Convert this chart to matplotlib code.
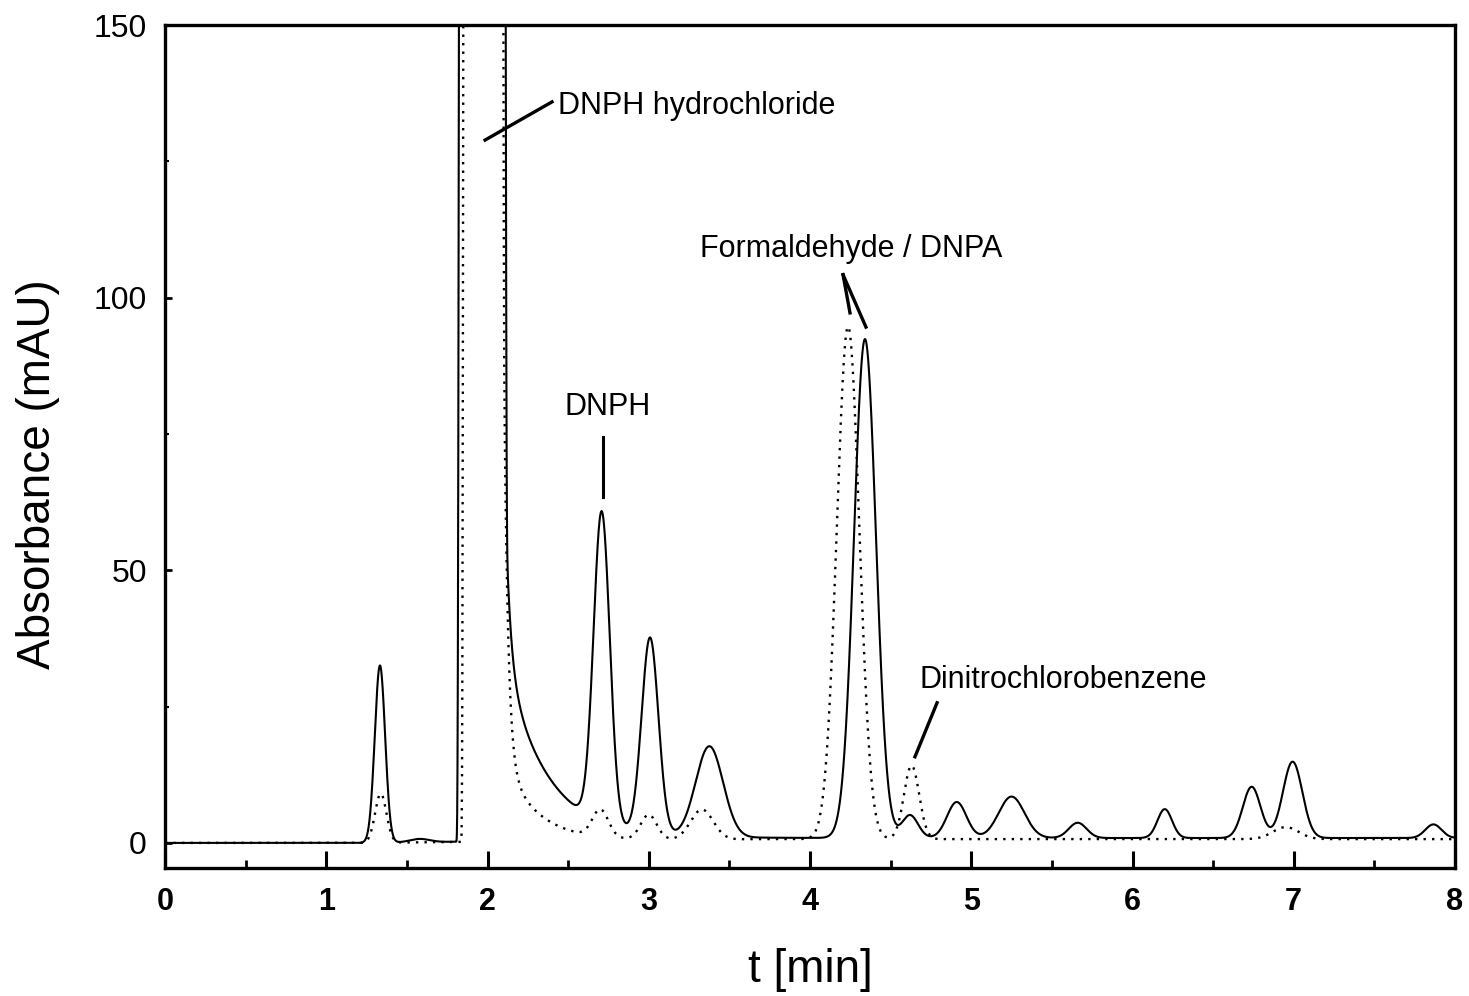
import matplotlib.pyplot as plt
import numpy as np
from matplotlib.ticker import MultipleLocator

plt.rcParams["font.family"] = ["Liberation Sans", "DejaVu Sans"]

# peak tables: retention time [min], height [mAU], sigma [min]
solid_times = [1.333, 1.58, 2.708, 3.008, 3.376, 4.341, 4.62, 4.91, 5.25, 5.66, 6.20, 6.739, 6.993, 7.866]
solid_heights = [32.5, 0.6, 57.0, 36.0, 16.7, 91.5, 4.2, 6.6, 7.6, 2.8, 5.3, 9.4, 14.0, 2.5]
solid_sigmas = [0.032, 0.06, 0.05, 0.052, 0.085, 0.068, 0.05, 0.06, 0.08, 0.055, 0.045, 0.055, 0.06, 0.05]

dotted_times = [1.338, 2.70, 3.00, 3.33, 4.236, 4.63, 6.95]
dotted_heights = [9.0, 5.0, 4.5, 5.5, 94.0, 13.5, 2.2]
dotted_sigmas = [0.035, 0.05, 0.05, 0.07, 0.07, 0.047, 0.08]

# saturated DNPH hydrochloride peak: left edge, right edge [min]
solid_big = (1.823, 2.110)
dotted_big = (1.850, 2.094)
# tail after the big peak: (fast amp, fast tau, slow amp, slow tau)
solid_tail = (30.0, 0.03, 33.0, 0.26)
dotted_tail = (104.0, 0.024, 15.5, 0.20)
# baseline level reached after the injection peak [mAU]
solid_base = 0.9
dotted_base = 0.7

t = np.linspace(0, 8, 8001)


def trace(times, heights, sigmas, big, tail, base):
    y = base * np.clip((t - 1.2) / 2.5, 0, 1)
    for c, h, s in zip(times, heights, sigmas):
        y = y + h * np.exp(-((t - c) ** 2) / (2 * s**2))
    center = (big[0] + big[1]) / 2
    half = (big[1] - big[0]) / 2
    y = y + 420 * np.exp(-np.abs((t - center) / half) ** 20)
    dt = t - big[1]
    y = y + np.where(dt >= 0, tail[0] * np.exp(-dt / tail[1]) + tail[2] * np.exp(-dt / tail[3]), 0)
    return y


solid = trace(solid_times, solid_heights, solid_sigmas, solid_big, solid_tail, solid_base)
dotted = trace(dotted_times, dotted_heights, dotted_sigmas, dotted_big, dotted_tail, dotted_base)

fig = plt.figure(figsize=(14.69, 9.96), dpi=100)
ax = fig.add_axes([165 / 1469, 1 - 868 / 996, 1290 / 1469, 843 / 996])

ax.plot(t, dotted, color="black", linewidth=1.7, linestyle=(0, (1, 2.6)))
ax.plot(t, solid, color="black", linewidth=1.5)

ax.set_xlim(0, 8)
ax.set_ylim(-4.6, 150)

for side in ["left", "right", "top", "bottom"]:
    ax.spines[side].set_linewidth(2.4)

ax.xaxis.set_major_locator(MultipleLocator(1))
ax.xaxis.set_minor_locator(MultipleLocator(0.5))
ax.yaxis.set_major_locator(MultipleLocator(50))
ax.yaxis.set_minor_locator(MultipleLocator(25))
ax.tick_params(axis="x", which="major", direction="in", length=12, width=2.2, pad=14, labelsize=22)
ax.tick_params(axis="x", which="minor", direction="in", length=6, width=2.0)
ax.tick_params(axis="y", which="major", direction="in", length=5, width=2.0, pad=13, labelsize=23)
ax.tick_params(axis="y", which="minor", direction="in", length=3, width=1.5)
for lbl in ax.get_xticklabels():
    lbl.set_fontweight("bold")

fig.text(38 / 1469, 1 - 474 / 996, "Absorbance (mAU)", rotation=90, ha="center", va="center", fontsize=33)
fig.text(810 / 1469, 1 - 970 / 996, "t [min]", ha="center", va="center", fontsize=33)

# annotations and leader lines
ax.text(2.437, 135.2, "DNPH hydrochloride", fontsize=22, ha="left", va="center")
ax.plot([1.985, 2.40], [128.9, 135.9], color="black", linewidth=2.4)

ax.text(2.747, 80.0, "DNPH", fontsize=22, ha="center", va="center")
ax.plot([2.718, 2.718], [74.5, 63.5], color="black", linewidth=2.2)

ax.text(3.318, 108.9, "Formaldehyde / DNPA", fontsize=22, ha="left", va="center")
ax.plot([4.205, 4.248], [104.2, 97.2], color="black", linewidth=2.4)
ax.plot([4.205, 4.347], [104.2, 94.6], color="black", linewidth=2.4)

ax.text(4.682, 29.9, "Dinitrochlorobenzene", fontsize=22, ha="left", va="center")
ax.plot([4.788, 4.651], [25.7, 15.8], color="black", linewidth=2.4)

fig.savefig("out.png", dpi=100)
